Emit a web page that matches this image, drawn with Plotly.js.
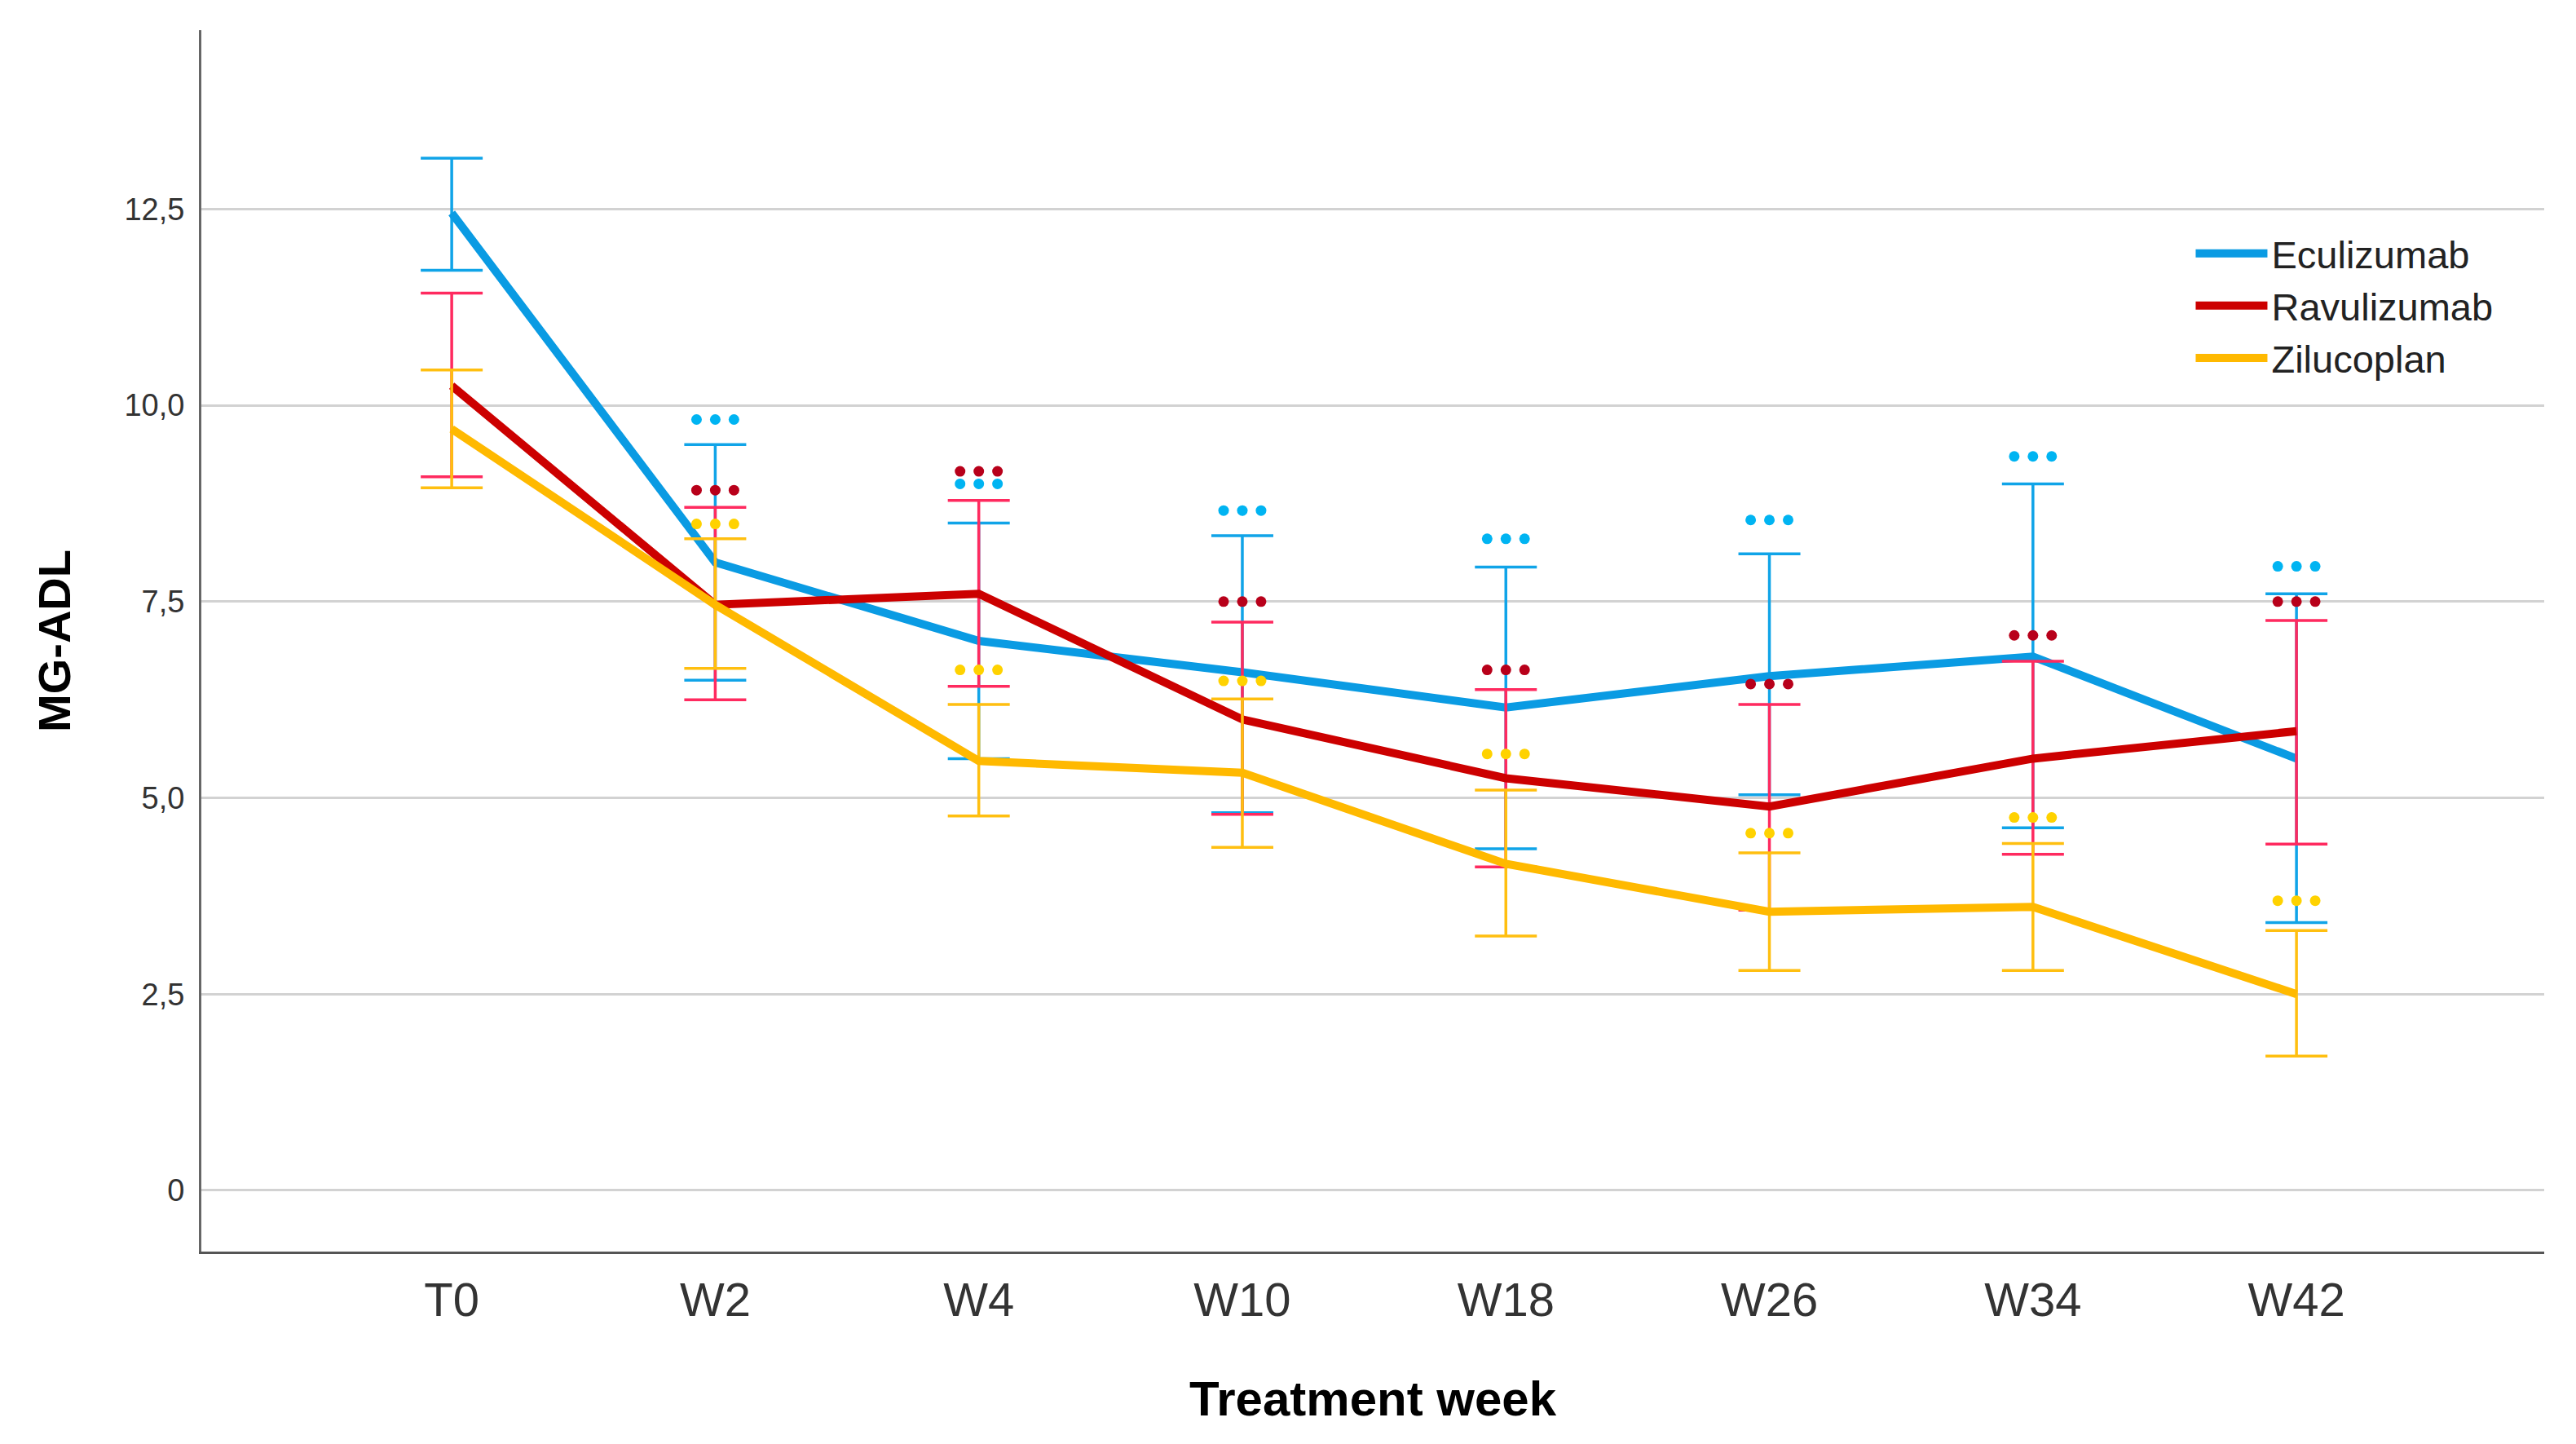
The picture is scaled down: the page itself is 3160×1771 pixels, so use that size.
<!DOCTYPE html>
<html>
<head>
<meta charset="utf-8">
<script src="https://cdn.plot.ly/plotly-3.0.1.min.js"></script>
<style>html,body{margin:0;padding:0;background:#fff;}#chart{width:3160px;height:1771px;}</style>
</head>
<body>
<div id="chart"></div>
<script>
// ---- data ----
const weeks = ['T0', 'W2', 'W4', 'W10', 'W18', 'W26', 'W34', 'W42'];
const seriesNames = ['Eculizumab', 'Ravulizumab', 'Zilucoplan'];

const eculizumabMean  = [12.45, 8.0, 7.0, 6.6, 6.15, 6.55, 6.8, 5.5];
const eculizumabUpper = [13.15, 9.5, 8.5, 8.34, 7.94, 8.11, 9.0, 7.6];
const eculizumabLower = [11.72, 6.5, 5.5, 4.81, 4.35, 5.04, 4.62, 3.41];

const ravulizumabMean  = [10.25, 7.46, 7.6, 6.0, 5.25, 4.89, 5.5, 5.85];
const ravulizumabUpper = [11.43, 8.7, 8.79, 7.24, 6.38, 6.19, 6.74, 7.26];
const ravulizumabLower = [9.09, 6.25, 6.42, 4.79, 4.12, 3.57, 4.28, 4.41];

const zilucoplanMean  = [9.7, 7.46, 5.47, 5.32, 4.16, 3.55, 3.61, 2.5];
const zilucoplanUpper = [10.45, 8.3, 6.19, 6.26, 5.1, 4.3, 4.42, 3.31];
const zilucoplanLower = [8.95, 6.65, 4.77, 4.37, 3.24, 2.8, 2.8, 1.71];

// significance markers (three dots) shown above the error bars, weeks W2..W42
const sigWeeks = ['W2', 'W4', 'W10', 'W18', 'W26', 'W34', 'W42'];
const eculizumabSig  = [9.82, 9.0, 8.66, 8.3, 8.54, 9.35, 7.95];
const ravulizumabSig = [8.92, 9.16, 7.5, 6.63, 6.45, 7.07, 7.5];
const zilucoplanSig  = [8.49, 6.63, 6.49, 5.56, 4.55, 4.75, 3.69];

const yTickVals = [0, 2.5, 5, 7.5, 10, 12.5];
const yTickText = ['0', '2,5', '5,0', '7,5', '10,0', '12,5'];

// ---- styles ----
const lineColors = ['#0a9be3', '#cc0000', '#ffb900'];
const errColors  = ['#10a4e8', '#ff2a5f', '#ffbf10'];
const dotColors  = ['#00b4f2', '#b8001a', '#ffd200'];
const FONT = 'Liberation Sans, Arial, sans-serif';
const DOT_STEP = 0.071;   // horizontal spacing of the three dots, in category units

const means  = [eculizumabMean, ravulizumabMean, zilucoplanMean];
const uppers = [eculizumabUpper, ravulizumabUpper, zilucoplanUpper];
const lowers = [eculizumabLower, ravulizumabLower, zilucoplanLower];
const sigs   = [eculizumabSig, ravulizumabSig, zilucoplanSig];

const weekIndex = w => weeks.indexOf(w);
const xPos = weeks.map((w, i) => i);

const traces = [];
for (let s = 0; s < 3; s++) {
  traces.push({
    type: 'scatter',
    mode: 'lines',
    name: seriesNames[s],
    x: xPos,
    y: means[s],
    text: weeks,
    line: {color: lineColors[s], width: 10},
    error_y: {
      type: 'data',
      symmetric: false,
      array: uppers[s].map((u, i) => u - means[s][i]),
      arrayminus: lowers[s].map((l, i) => means[s][i] - l),
      color: errColors[s],
      thickness: 3.5,
      width: 38
    },
    hoverinfo: 'text+y+name'
  });
}
for (let s = 0; s < 3; s++) {
  const dx = [], dy = [];
  sigWeeks.forEach((w, i) => {
    [-1, 0, 1].forEach(k => {
      dx.push(weekIndex(w) + k * DOT_STEP);
      dy.push(sigs[s][i]);
    });
  });
  traces.push({
    type: 'scatter',
    mode: 'markers',
    x: dx,
    y: dy,
    marker: {symbol: 'circle', size: 13, color: dotColors[s], line: {width: 0}},
    showlegend: false,
    hoverinfo: 'skip'
  });
}

const layout = {
  width: 3160,
  height: 1771,
  paper_bgcolor: '#ffffff',
  plot_bgcolor: '#ffffff',
  margin: {l: 247, r: 39, t: 37, b: 236},
  font: {family: FONT, color: '#222'},
  showlegend: true,
  legend: {
    x: 0.8495, y: 0.842, xanchor: 'left', yanchor: 'top',
    font: {family: FONT, size: 47, color: '#222'},
    bgcolor: 'rgba(0,0,0,0)',
    itemwidth: 88,
    tracegroupgap: 0
  },
  xaxis: {
    type: 'linear',
    range: [-0.95, 7.94],
    tickvals: xPos,
    ticktext: weeks,
    showgrid: false,
    zeroline: false,
    showline: true,
    linecolor: '#555555',
    linewidth: 3,
    ticks: '',
    ticklabelstandoff: 6,
    tickfont: {family: FONT, size: 58, color: '#333'},
    title: {text: 'Treatment week', font: {family: FONT, size: 60, color: '#000', weight: 'bold'}, standoff: 70},
    fixedrange: true
  },
  yaxis: {
    range: [-0.78, 14.78],
    tickvals: yTickVals,
    ticktext: yTickText,
    showgrid: true,
    gridcolor: '#d2d2d2',
    gridwidth: 3,
    zeroline: false,
    showline: true,
    linecolor: '#666666',
    linewidth: 3,
    ticks: '',
    ticklabelstandoff: 10,
    tickfont: {family: FONT, size: 38, color: '#333'},
    title: {text: 'MG-ADL', font: {family: FONT, size: 56, color: '#000', weight: 'bold'}, standoff: 48},
    fixedrange: true
  }
};

Plotly.newPlot('chart', traces, layout, {displayModeBar: false, staticPlot: true});
</script>
</body>
</html>
